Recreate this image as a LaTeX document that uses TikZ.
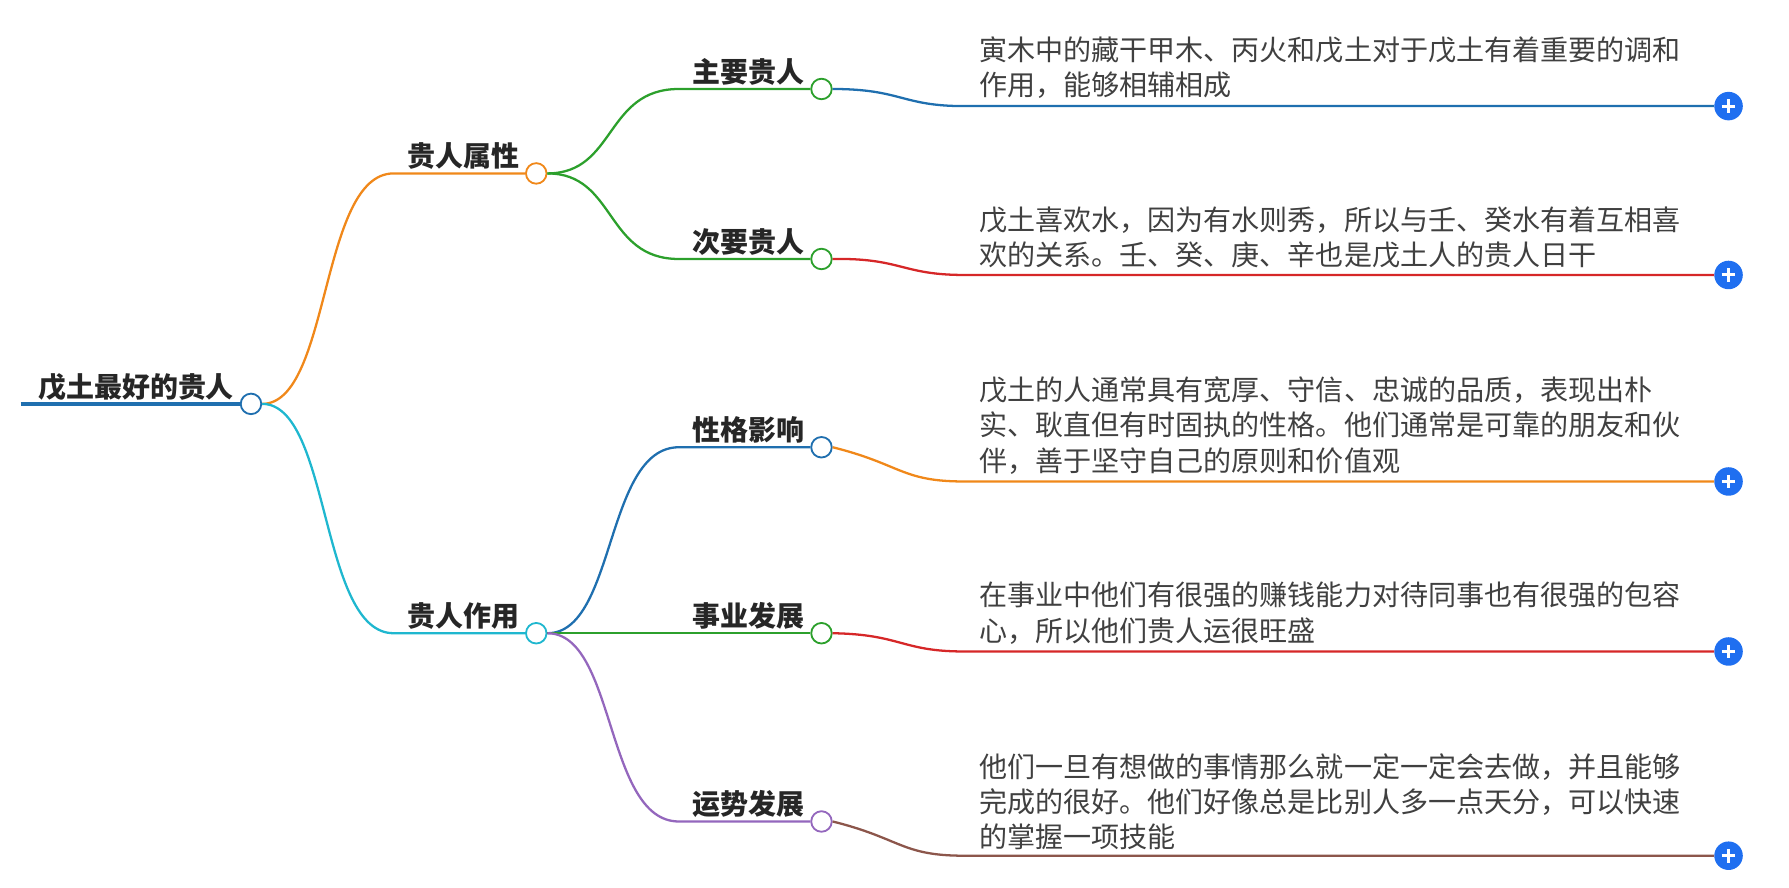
\documentclass[tikz,border=0pt]{standalone}
\usepackage{fontspec}
\setmainfont{Noto Sans CJK SC}
\begin{document}
\begin{tikzpicture}[x=1pt,y=-1pt,
  dot/.style={circle,fill=white,line width=1.6pt,minimum size=18pt,inner sep=0pt},
  lab/.style={font=\fontsize{24.5}{28}\selectfont\bfseries,text=black!85,anchor=base},
  leaf/.style={font=\fontsize{24.6}{31}\selectfont,text=black!75,anchor=north west,align=left,inner sep=0pt},
  plus/.style={circle,fill=cplus,minimum size=25pt,inner sep=0pt},
  br/.style={line width=2pt}]
\useasboundingbox (0,0) rectangle (1568,778);
\definecolor{corg}{HTML}{F0881A}\definecolor{ccy}{HTML}{1FB7CF}\definecolor{cgr}{HTML}{2CA02C}
\definecolor{cbl}{HTML}{1F6FAF}\definecolor{cred}{HTML}{D62728}\definecolor{cpu}{HTML}{9467BD}\definecolor{cbr}{HTML}{8C564B}
\definecolor{cplus}{HTML}{1F6FF0}
% root
\node[lab,anchor=base west] (rt) at (30,348) {戊土最好的贵人};
\draw[cbl,line width=4pt] (18,354) -- (212,354);
\node[dot,draw=cbl] (r) at (220,354) {};
% level 1
\node[dot,draw=corg] (a) at (470,152) {};
\node[dot,draw=ccy] (b) at (470,555) {};
\draw[br,corg] (r.east) .. controls (290,354) and (280,152) .. (345,152) -- (a.west);
\draw[br,ccy] (r.east) .. controls (290,354) and (280,555) .. (345,555) -- (b.west);
\node[lab] (at) at (406,146) {贵人属性};
\node[lab] (bt) at (406,549) {贵人作用};
% level 2
\foreach \n/\y/\c/\t in {a1/78/cgr/主要贵人, a2/227/cgr/次要贵人, b1/392/cbl/性格影响, b2/555/cgr/事业发展, b3/720/cpu/运势发展}{
  \node[dot,draw=\c] (\n) at (720,\y) {};
  \node[lab] (\n t) at (656,\y-6) {\t};
}
\draw[br,cgr] (a.east) .. controls (540,152) and (530,78) .. (595,78) -- (a1.west);
\draw[br,cgr] (a.east) .. controls (540,152) and (530,227) .. (595,227) -- (a2.west);
\draw[br,cbl] (b.east) .. controls (540,555) and (530,392) .. (595,392) -- (b1.west);
\draw[br,cgr] (b.east) -- (b2.west);
\draw[br,cpu] (b.east) .. controls (540,555) and (530,720) .. (595,720) -- (b3.west);
% leaves
\foreach \n/\y/\c/\s/\t in {
 a1/93/cbl/47/{寅木中的藏干甲木、丙火和戊土对于戊土有着重要的调和\\作用，能够相辅相成},
 a2/241/cred/196/{戊土喜欢水，因为有水则秀，所以与壬、癸水有着互相喜\\欢的关系。壬、癸、庚、辛也是戊土人的贵人日干},
 b1/422/corg/345/{戊土的人通常具有宽厚、守信、忠诚的品质，表现出朴\\实、耿直但有时固执的性格。他们通常是可靠的朋友和伙\\伴，善于坚守自己的原则和价值观},
 b2/571/cred/525/{在事业中他们有很强的赚钱能力对待同事也有很强的包容\\心，所以他们贵人运很旺盛},
 b3/750/cbr/675/{他们一旦有想做的事情那么就一定一定会去做，并且能够\\完成的很好。他们好像总是比别人多一点天分，可以快速\\的掌握一项技能}}{
  \node[plus] (\n p) at (1515,\y) {};
  \draw[white,line width=2.6pt] (1515-6,\y) -- (1515+6,\y) (1515,\y-6) -- (1515,\y+6);
  \node[leaf] (\n x) at (858,\s-15) {\t};
  \coordinate (\n c) at (845,\y);
  \draw[br,\c] (\n.east) .. controls (790,\y-15) and (790,\y) .. (\n c) -- (\n p.west);
}
\end{tikzpicture}
\end{document}
